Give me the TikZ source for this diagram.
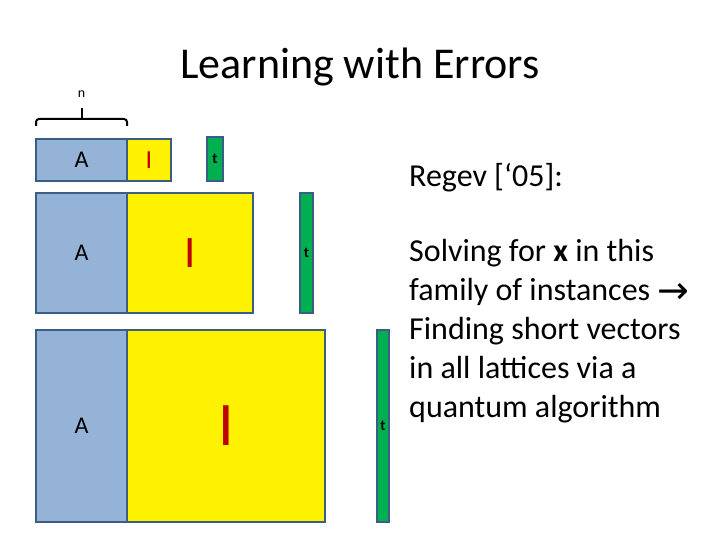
\documentclass[tikz,border=0pt]{standalone}
\usepackage{fontspec}
\setmainfont{Carlito}
\newfontfamily\symfont{DejaVu Sans}
\usetikzlibrary{positioning,calc}
\definecolor{matA}{HTML}{95B3D7}
\definecolor{matEdge}{HTML}{3B5E86}
\definecolor{vecT}{HTML}{00B050}
\definecolor{redI}{HTML}{C00000}
\tikzset{
  blk/.style={rectangle, draw=matEdge, line width=2.4pt, fill=#1, inner sep=0pt, outer sep=0pt},
  amat/.style={blk=matA, anchor=north west, minimum width=91pt, minimum height=#1,
               font=\fontsize{24}{28}\selectfont},
  imat/.style={blk=yellow, anchor=north west, minimum height=#1, text=redI},
  tvec/.style={blk=vecT, anchor=north west, minimum height=#1,
               font=\fontsize{15}{16}\selectfont\bfseries},
  slide/.style={font=\fontsize{32}{39}\selectfont, align=left, inner sep=0pt},
}

\begin{document}
\begin{tikzpicture}[x=1pt, y=-1pt]
  \useasboundingbox (0,0) rectangle (720,540);
  \node[font=\fontsize{44}{52}\selectfont, anchor=base] (title) at (360,79) {Learning with Errors};

  % three instances, growing
  \node[amat=42pt] (a1) at (36,139) {A};
  \node[imat=42pt, minimum width=44pt, right=0pt of a1.north east, anchor=north west,
        font=\fontsize{26}{30}\selectfont] (i1) {I};
  \node[tvec=44pt, minimum width=16pt] (t1) at (207,137) {t};

  \node[amat=120pt] (a2) at (36,193) {A};
  \node[imat=120pt, minimum width=126pt, right=0pt of a2.north east, anchor=north west,
        font=\fontsize{45}{50}\selectfont] (i2) {I};
  \node[tvec=120pt, minimum width=13pt] (t2) at (300,193) {t};

  \node[amat=192pt] (a3) at (36,330) {A};
  \node[imat=192pt, minimum width=198pt, right=0pt of a3.north east, anchor=north west,
        font=\fontsize{62}{70}\selectfont] (i3) {I};
  \node[tvec=192pt, minimum width=12pt] (t3) at (377,330) {t};

  % width of A
  \draw[line width=2pt, rounded corners=3pt]
    ($(a1.north west)+(0,-13)$) |- ($(a1.north)+(0,-20)$) -| ($(a1.north east)+(0,-13)$);
  \draw[line width=2pt] ($(a1.north)+(0,-19)$) -- ($(a1.north)+(0,-31)$) coordinate (tip);
  \node[font=\fontsize{14}{16}\selectfont, anchor=base] (n) at ($(tip)+(0,-10)$) {n};

  \node[slide, anchor=base west] (regev) at (409,187) {Regev [‘05]:};
  \node[slide, anchor=north west] (claim) at (409,239)
    {Solving for \textbf{x} in this\\
     family of instances {\symfont\fontsize{38}{39}\selectfont\raisebox{-3pt}{→}}\\
     Finding short vectors\\
     in all lattices via a\\
     quantum algorithm};
\end{tikzpicture}
\end{document}
